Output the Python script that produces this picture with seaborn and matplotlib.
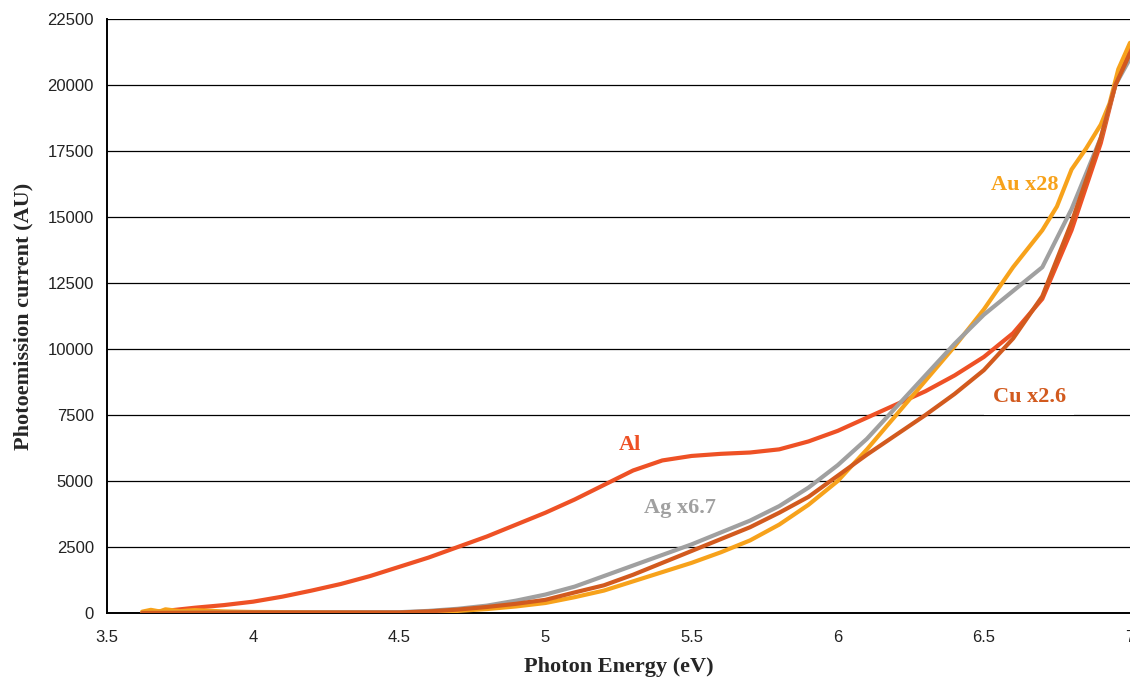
import pandas as pd
import matplotlib.pyplot as plt
import seaborn as sns
from matplotlib.ticker import MultipleLocator, FormatStrFormatter

# --- Data ---
al_energy = [3.62, 3.7, 3.8, 3.9, 4.0, 4.1, 4.2, 4.3, 4.4, 4.5, 4.6, 4.7, 4.8, 4.9, 5.0, 5.1, 5.2, 5.3,
             5.4, 5.5, 5.6, 5.7, 5.8, 5.9, 6.0, 6.1, 6.2, 6.3, 6.4, 6.5, 6.6, 6.7, 6.8, 6.9, 6.95, 7.0]
al_current = [0, 80, 200, 300, 430, 620, 850, 1100, 1400, 1750, 2100, 2500, 2900, 3350, 3800, 4300, 4850, 5400,
              5780, 5950, 6030, 6080, 6200, 6500, 6900, 7400, 7900, 8400, 9000, 9700, 10600, 11900, 14500, 17800, 20000, 21400]

cu_energy = [3.62, 4.0, 4.5, 4.6, 4.7, 4.8, 4.9, 5.0, 5.1, 5.2, 5.3, 5.4, 5.5, 5.6, 5.7, 5.8, 5.9,
             6.0, 6.1, 6.2, 6.3, 6.4, 6.5, 6.6, 6.7, 6.8, 6.9, 6.95, 7.0]
cu_current = [0, 20, 20, 60, 130, 230, 350, 500, 780, 1050, 1450, 1900, 2350, 2800, 3250, 3800, 4400,
              5200, 6000, 6750, 7500, 8300, 9200, 10400, 12000, 14800, 18000, 20000, 21200]

ag_energy = [3.62, 4.5, 4.6, 4.7, 4.8, 4.9, 5.0, 5.1, 5.2, 5.3, 5.4, 5.5, 5.6, 5.7, 5.8, 5.9,
             6.0, 6.1, 6.2, 6.3, 6.4, 6.5, 6.6, 6.7, 6.8, 6.9, 6.95, 7.0]
ag_current = [0, 30, 80, 160, 280, 470, 700, 1000, 1400, 1800, 2200, 2600, 3050, 3500, 4050, 4750,
              5600, 6600, 7800, 9000, 10200, 11300, 12200, 13100, 15300, 18000, 20000, 21000]

au_energy = [3.62, 3.65, 3.68, 3.7, 3.75, 3.8, 3.9, 4.0, 4.2, 4.5, 4.6, 4.7, 4.8, 4.9, 5.0, 5.1, 5.2, 5.3,
             5.4, 5.5, 5.6, 5.7, 5.8, 5.9, 6.0, 6.1, 6.2, 6.3, 6.4, 6.5, 6.6, 6.7, 6.75, 6.8, 6.85, 6.9, 6.93, 6.96, 7.0]
au_current = [50, 120, 60, 140, 70, 110, 60, 40, 30, 20, 40, 80, 150, 250, 380, 600, 850, 1200,
              1550, 1900, 2300, 2750, 3350, 4100, 5000, 6200, 7500, 8800, 10100, 11500, 13100, 14500, 15400, 16800, 17600, 18500, 19300, 20600, 21600]

series = [
    ("Al", al_energy, al_current, "#EE5125"),
    ("Au x28", au_energy, au_current, "#F7A21B"),
    ("Ag x6.7", ag_energy, ag_current, "#A0A0A0"),
    ("Cu x2.6", cu_energy, cu_current, "#D25A1E"),
]

# --- Plot ---
sns.set_style("white")
fig = plt.figure(figsize=(11.3, 6.8), dpi=100)
ax = fig.add_axes([0.0947, 0.0985, 0.9053, 0.8735])

for name, xs, ys, color in series:
    df = pd.DataFrame({"energy": xs, "current": ys})
    sns.lineplot(data=df, x="energy", y="current", color=color, linewidth=3.0, ax=ax, zorder=3)

ax.set_xlim(3.5, 7)
ax.set_ylim(0, 22500)
ax.yaxis.set_major_locator(MultipleLocator(2500))
ax.xaxis.set_major_locator(MultipleLocator(0.5))
ax.xaxis.set_minor_locator(MultipleLocator(0.1))
ax.xaxis.set_major_formatter(FormatStrFormatter("%g"))
ax.grid(axis="y", color="black", linewidth=0.9)
ax.set_axisbelow(True)

for side in ["top", "right"]:
    ax.spines[side].set_visible(False)
for side in ["left", "bottom"]:
    ax.spines[side].set_color("black")
    ax.spines[side].set_linewidth(1.4)

ax.tick_params(axis="both", which="major", direction="out", length=6, width=1.2,
               color="black", labelsize=12, labelcolor="#222222")
ax.tick_params(axis="x", which="minor", direction="out", length=4, width=1.0, color="black")
ax.tick_params(axis="x", which="major", pad=6)
for lbl in ax.get_xticklabels() + ax.get_yticklabels():
    lbl.set_family(["Liberation Sans", "DejaVu Sans"])

ax.set_xlabel("Photon Energy (eV)", family=["Liberation Serif", "DejaVu Serif"],
              fontweight="bold", fontsize=16, labelpad=9)
ax.set_ylabel("Photoemission current (AU)", family=["Liberation Serif", "DejaVu Serif"],
              fontweight="bold", fontsize=16, labelpad=10)

lab_font = dict(family=["Liberation Serif", "DejaVu Serif"], fontweight="bold", fontsize=16,
                ha="center", va="center", zorder=4)
ax.text(5.29, 6350, "Al", color="#EE5125", **lab_font)
ax.text(5.46, 3970, "Ag x6.7", color="#A0A0A0", **lab_font)
ax.text(6.64, 16200, "Au x28", color="#F7A21B", **lab_font)
ax.text(6.655, 8200, "Cu x2.6", color="#D25A1E",
        bbox=dict(facecolor="white", edgecolor="none", pad=6), **lab_font)

fig.savefig("out.png", dpi=100)
